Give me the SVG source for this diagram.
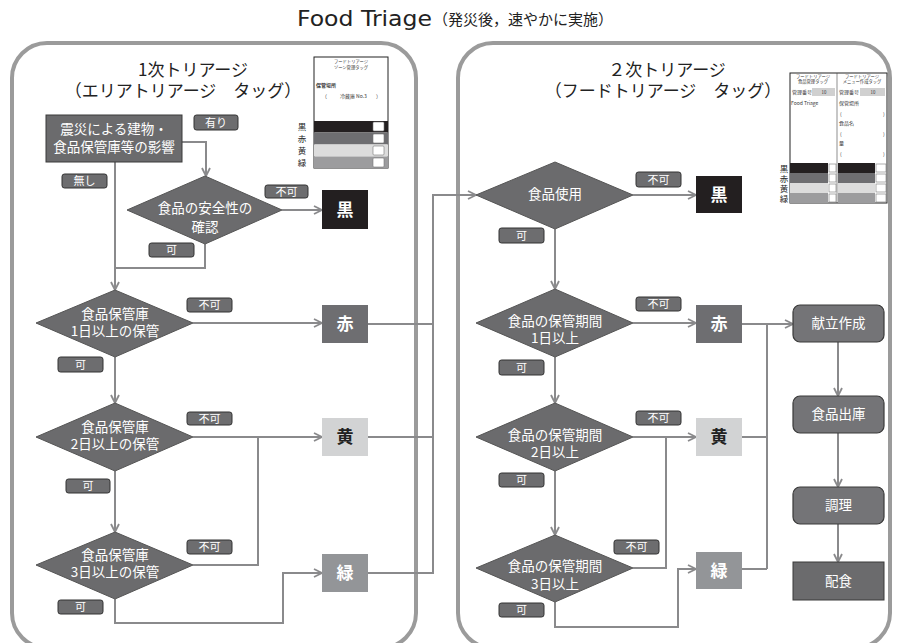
<svg xmlns="http://www.w3.org/2000/svg" width="897" height="643" viewBox="0 0 897 643">
<style>
text{font-family:"Noto Sans CJK JP","Noto Sans",sans-serif}
.panel{fill:none;stroke:#9b9b9b;stroke-width:4}
.dia{fill:#6b6b6d;stroke:#555;stroke-width:1}
.box{fill:#6b6b6d;stroke:#3a3a3a;stroke-width:1}
.rbox{fill:#747477;stroke:#3a3a3a;stroke-width:1.2}
.wt{fill:#fff;font-size:13.5px;text-anchor:middle}
.hd{fill:#222;font-size:17px;text-anchor:middle}
.res{font-size:17px;font-weight:bold;text-anchor:middle}
.lr{fill:#6d6d6f;stroke:#333;stroke-width:1}
.lt{fill:#fff;font-size:11px;text-anchor:middle}
.c{stroke:#8a8a8c;stroke-width:2;fill:none}
.tiny{fill:#333;font-size:5px}
.tm{fill:#333;font-size:4.3px;text-anchor:middle}
.tl{fill:#222;font-size:8.5px;text-anchor:middle}
.tl2{fill:#222;font-size:8.5px;text-anchor:middle}
.sq{fill:#fff;stroke:#777;stroke-width:0.6}
</style>
<defs>
<marker id="ah" markerWidth="10" markerHeight="10" refX="9" refY="5" orient="auto" markerUnits="userSpaceOnUse"><path d="M1,1 L9,5 L1,9" fill="none" stroke="#8a8a8c" stroke-width="1.8"/></marker>
</defs>
<rect width="897" height="643" fill="#fff"/>

<g id="title">
<text x="297" y="26" font-size="21" fill="#222" style="font-family:'DejaVu Sans',sans-serif" textLength="135" lengthAdjust="spacingAndGlyphs">Food Triage</text>
<text x="433" y="25" font-size="15" fill="#222">（発災後，速やかに実施）</text>
</g>

<g id="panels">
<rect class="panel" x="12" y="43" width="404" height="605" rx="35"/>
<rect class="panel" x="458" y="43" width="432" height="605" rx="35"/>
<text class="hd" x="193" y="76">1次トリアージ</text>
<text class="hd" x="183" y="97">（エリアトリアージ　タッグ）</text>
<text class="hd" x="667" y="76">２次トリアージ</text>
<text class="hd" x="663" y="97">（フードトリアージ　タッグ）</text>
</g>

<g id="tag1">
<rect x="314" y="57" width="74" height="111" fill="#fff" stroke="#222" stroke-width="1"/>
<text class="tm" x="351" y="63">フードトリアージ</text>
<text class="tm" x="351" y="69">ゾーン管理タッグ</text>
<text class="tiny" x="316" y="87" font-weight="bold">保管場所</text>
<text class="tiny" x="322" y="98">（</text>
<text class="tiny" x="340" y="98">冷蔵庫 No.3</text>
<text class="tiny" x="376" y="98">）</text>
<rect x="314" y="121" width="74" height="11.5" fill="#231f20"/>
<rect x="314" y="132.5" width="74" height="12" fill="#6e6e71"/>
<rect x="314" y="144.5" width="74" height="12" fill="#dcdcdc"/>
<rect x="314" y="156.5" width="74" height="11.5" fill="#9c9c9e"/>
<rect class="sq" x="373" y="122" width="11" height="9" rx="1"/>
<rect class="sq" x="373" y="134" width="11" height="9" rx="1"/>
<rect class="sq" x="373" y="146" width="11" height="9" rx="1"/>
<rect class="sq" x="373" y="158" width="11" height="9" rx="1"/>
<text class="tl" x="302" y="130">黒</text>
<text class="tl" x="302" y="142">赤</text>
<text class="tl" x="302" y="154">黄</text>
<text class="tl" x="302" y="166">緑</text>
</g>

<g id="tag2">
<rect x="790" y="73" width="97" height="130" fill="#fff" stroke="#222" stroke-width="1"/>
<line x1="837" y1="73" x2="837" y2="203" stroke="#444" stroke-width="0.6"/>
<text class="tm" x="813" y="77.5">フードトリアージ</text>
<text class="tm" x="813" y="83">食品管理タッグ</text>
<text class="tm" x="862" y="77.5">フードトリアージ</text>
<text class="tm" x="862" y="83">メニュー作成タッグ</text>
<text class="tiny" x="792" y="94">管理番号</text>
<rect x="812" y="88" width="23" height="8" fill="#d0d0d0"/>
<text class="tm" x="824" y="94">10</text>
<text class="tiny" x="839" y="94">管理番号</text>
<rect x="860" y="88" width="25" height="8" fill="#d0d0d0"/>
<text class="tm" x="873" y="94">10</text>
<text class="tiny" x="791" y="105">Food Triage</text>
<text class="tiny" x="839" y="105">保管場所</text>
<text class="tiny" x="840" y="116">(</text><text class="tiny" x="883" y="116">)</text>
<text class="tiny" x="839" y="125">食品名</text>
<text class="tiny" x="840" y="136">(</text><text class="tiny" x="883" y="136">)</text>
<text class="tiny" x="839" y="145">量</text>
<text class="tiny" x="840" y="156">(</text><text class="tiny" x="883" y="156">)</text>
<rect x="790" y="163" width="38" height="10" fill="#231f20"/>
<rect x="790" y="173" width="38" height="10" fill="#6e6e71"/>
<rect x="790" y="183" width="38" height="10" fill="#dcdcdc"/>
<rect x="790" y="193" width="38" height="10" fill="#9c9c9e"/>
<rect x="838" y="163" width="37" height="10" fill="#231f20"/>
<rect x="838" y="173" width="37" height="10" fill="#6e6e71"/>
<rect x="838" y="183" width="37" height="10" fill="#dcdcdc"/>
<rect x="838" y="193" width="37" height="10" fill="#9c9c9e"/>
<rect class="sq" x="829" y="164" width="7" height="8"/>
<rect class="sq" x="829" y="174" width="7" height="8"/>
<rect class="sq" x="829" y="184" width="7" height="8"/>
<rect class="sq" x="829" y="194" width="7" height="8"/>
<rect class="sq" x="876" y="164" width="10" height="8"/>
<rect class="sq" x="876" y="174" width="10" height="8"/>
<rect class="sq" x="876" y="184" width="10" height="8"/>
<rect class="sq" x="876" y="194" width="10" height="8"/>
<text class="tl2" x="784" y="171.5">黒</text>
<text class="tl2" x="784" y="181.5">赤</text>
<text class="tl2" x="784" y="191.5">黄</text>
<text class="tl2" x="784" y="201.5">緑</text>
</g>

<g id="connectors">
<polyline class="c" points="182,142 206,142 206,176" marker-end="url(#ah)"/>
<polyline class="c" points="115,162 115,290" marker-end="url(#ah)"/>
<polyline class="c" points="282,210 322,210" marker-end="url(#ah)"/>
<polyline class="c" points="205,244 205,268 115,268"/>
<polyline class="c" points="193,323 322,323" marker-end="url(#ah)"/>
<polyline class="c" points="115,357 115,403" marker-end="url(#ah)"/>
<polyline class="c" points="193,437 322,437" marker-end="url(#ah)"/>
<polyline class="c" points="115,471 115,532" marker-end="url(#ah)"/>
<polyline class="c" points="193,565 258,565 258,437"/>
<polyline class="c" points="115,599 115,623 283,623 283,573 322,573" marker-end="url(#ah)"/>
<polyline class="c" points="368,324 433,324"/>
<polyline class="c" points="368,437 433,437"/>
<polyline class="c" points="368,573 433,573 433,195 476,195" marker-end="url(#ah)"/>
<polyline class="c" points="633,195 696,195" marker-end="url(#ah)"/>
<polyline class="c" points="555,229 555,289" marker-end="url(#ah)"/>
<polyline class="c" points="633,323 696,323" marker-end="url(#ah)"/>
<polyline class="c" points="555,357 555,403" marker-end="url(#ah)"/>
<polyline class="c" points="633,437 696,437" marker-end="url(#ah)"/>
<polyline class="c" points="555,471 555,535" marker-end="url(#ah)"/>
<polyline class="c" points="633,568 666,568 666,437"/>
<polyline class="c" points="555,602 555,627 678,627 678,569 696,569" marker-end="url(#ah)"/>
<polyline class="c" points="742,324 793,324" marker-end="url(#ah)"/>
<polyline class="c" points="767,324 767,569"/>
<polyline class="c" points="742,437 767,437"/>
<polyline class="c" points="742,569 767,569"/>
<polyline class="c" points="838,342 838,396" marker-end="url(#ah)"/>
<polyline class="c" points="838,433 838,487" marker-end="url(#ah)"/>
<polyline class="c" points="838,524 838,562" marker-end="url(#ah)"/>
</g>

<g id="labels">
<rect class="lr" x="194" y="115" width="44" height="15" rx="2.5"/><text class="lt" x="216" y="126.5">有り</text>
<rect class="lr" x="62" y="174" width="45" height="14" rx="2.5"/><text class="lt" x="84.5" y="185">無し</text>
<rect class="lr" x="265" y="185" width="43" height="13" rx="2.5"/><text class="lt" x="286.5" y="195.5">不可</text>
<rect class="lr" x="149" y="243" width="45" height="14" rx="2.5"/><text class="lt" x="171.5" y="254">可</text>
<rect class="lr" x="187" y="298" width="45" height="14" rx="2.5"/><text class="lt" x="209.5" y="309">不可</text>
<rect class="lr" x="58" y="357" width="45" height="15" rx="2.5"/><text class="lt" x="80.5" y="368.5">可</text>
<rect class="lr" x="187" y="412" width="45" height="13" rx="2.5"/><text class="lt" x="209.5" y="422.5">不可</text>
<rect class="lr" x="66" y="479" width="44" height="14" rx="2.5"/><text class="lt" x="88" y="490">可</text>
<rect class="lr" x="187" y="540" width="45" height="14" rx="2.5"/><text class="lt" x="209.5" y="551">不可</text>
<rect class="lr" x="58" y="600" width="45" height="14" rx="2.5"/><text class="lt" x="80.5" y="611">可</text>
<rect class="lr" x="636" y="172" width="45" height="15" rx="2.5"/><text class="lt" x="658.5" y="183.5">不可</text>
<rect class="lr" x="499" y="228" width="45" height="15" rx="2.5"/><text class="lt" x="521.5" y="239.5">可</text>
<rect class="lr" x="636" y="297" width="45" height="14" rx="2.5"/><text class="lt" x="658.5" y="308">不可</text>
<rect class="lr" x="499" y="360" width="45" height="15" rx="2.5"/><text class="lt" x="521.5" y="371.5">可</text>
<rect class="lr" x="636" y="411" width="45" height="14" rx="2.5"/><text class="lt" x="658.5" y="422">不可</text>
<rect class="lr" x="499" y="473" width="45" height="14" rx="2.5"/><text class="lt" x="521.5" y="484">可</text>
<rect class="lr" x="614" y="540" width="45" height="14" rx="2.5"/><text class="lt" x="636.5" y="551">不可</text>
<rect class="lr" x="499" y="603" width="45" height="14" rx="2.5"/><text class="lt" x="521.5" y="614">可</text>
</g>

<g id="n-start">
<rect class="box" x="46" y="115" width="136" height="47"/>
<text class="wt" x="114" y="134" font-size="13">震災による建物・</text>
<text class="wt" x="114" y="152" font-size="13">食品保管庫等の影響</text>
</g>
<g id="d-safety">
<polygon class="dia" points="205,176 282,210 205,244 127,210"/>
<text class="wt" x="205" y="213">食品の安全性の</text>
<text class="wt" x="205" y="232">確認</text>
</g>
<g id="d-store1">
<polygon class="dia" points="115,290 193,323 115,357 36,323"/>
<text class="wt" x="115" y="319">食品保管庫</text>
<text class="wt" x="115" y="336">1日以上の保管</text>
</g>
<g id="d-store2">
<polygon class="dia" points="115,403 193,437 115,471 36,437"/>
<text class="wt" x="115" y="432">食品保管庫</text>
<text class="wt" x="115" y="449">2日以上の保管</text>
</g>
<g id="d-store3">
<polygon class="dia" points="115,532 193,565 115,599 36,565"/>
<text class="wt" x="115" y="560">食品保管庫</text>
<text class="wt" x="115" y="577">3日以上の保管</text>
</g>
<g id="l-black"><rect x="322" y="190" width="46" height="39" fill="#231f20"/><text class="res" x="345" y="216" fill="#fff">黒</text></g>
<g id="l-red"><rect x="322" y="305" width="46" height="38" fill="#6e6e71"/><text class="res" x="345" y="330" fill="#fff">赤</text></g>
<g id="l-yellow"><rect x="322" y="418" width="46" height="38" fill="#d2d3d4"/><text class="res" x="345" y="443" fill="#222">黄</text></g>
<g id="l-green"><rect x="322" y="554" width="46" height="38" fill="#939598"/><text class="res" x="345" y="579" fill="#fff">緑</text></g>

<g id="r-use">
<polygon class="dia" points="555,162 633,195 555,229 476,195"/>
<text class="wt" x="555" y="199">食品使用</text>
</g>
<g id="r-period1">
<polygon class="dia" points="555,289 633,323 555,357 476,323"/>
<text class="wt" x="555" y="326">食品の保管期間</text>
<text class="wt" x="555" y="343">1日以上</text>
</g>
<g id="r-period2">
<polygon class="dia" points="555,403 633,437 555,471 476,437"/>
<text class="wt" x="555" y="440">食品の保管期間</text>
<text class="wt" x="555" y="457">2日以上</text>
</g>
<g id="r-period3">
<polygon class="dia" points="555,535 633,568 555,602 476,568"/>
<text class="wt" x="555" y="571">食品の保管期間</text>
<text class="wt" x="555" y="589">3日以上</text>
</g>
<g id="r-black"><rect x="696" y="176" width="46" height="37" fill="#231f20"/><text class="res" x="719" y="201" fill="#fff">黒</text></g>
<g id="r-red"><rect x="696" y="305" width="46" height="38" fill="#6e6e71"/><text class="res" x="719" y="330" fill="#fff">赤</text></g>
<g id="r-yellow"><rect x="696" y="418" width="46" height="38" fill="#d2d3d4"/><text class="res" x="719" y="443" fill="#222">黄</text></g>
<g id="r-green"><rect x="696" y="552" width="46" height="37" fill="#939598"/><text class="res" x="719" y="577" fill="#fff">緑</text></g>

<g id="menu"><rect class="rbox" x="793" y="305" width="91" height="37" rx="7"/><text class="wt" x="838.5" y="328" font-size="13">献立作成</text></g>
<g id="issue"><rect class="rbox" x="793" y="396" width="91" height="37" rx="7"/><text class="wt" x="838.5" y="419" font-size="13">食品出庫</text></g>
<g id="cook"><rect class="rbox" x="793" y="487" width="91" height="37" rx="7"/><text class="wt" x="838.5" y="510" font-size="13">調理</text></g>
<g id="serve"><rect class="box" x="793" y="562" width="91" height="38"/><text class="wt" x="838.5" y="586" font-size="13">配食</text></g>
</svg>
